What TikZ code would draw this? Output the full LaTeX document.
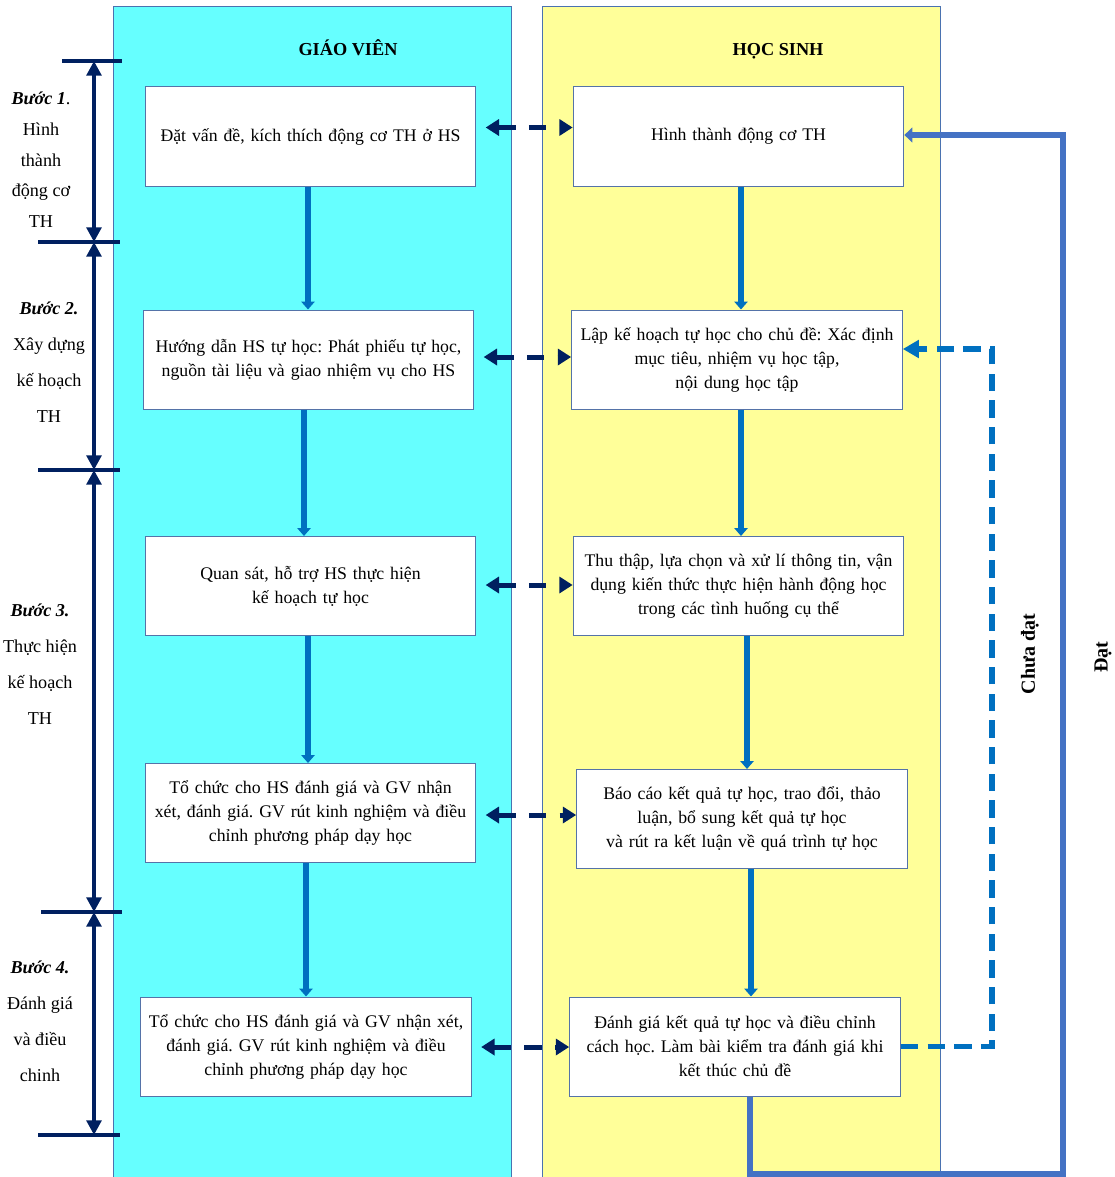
\documentclass[tikz,border=0pt]{standalone}
\usepackage{fontspec}
\setmainfont{Liberation Serif}
\frenchspacing
\usetikzlibrary{arrows.meta,calc}
\definecolor{gvfill}{HTML}{66FFFF}
\definecolor{hsfill}{HTML}{FFFF99}
\definecolor{colborder}{HTML}{4A72B0}
\definecolor{boxborder}{HTML}{5573A8}
\definecolor{navy}{HTML}{002060}
\definecolor{flowblue}{HTML}{0070C0}
\definecolor{okblue}{HTML}{4472C4}
\tikzset{
  column/.style={draw=colborder, line width=0.75pt},
  procbox/.style={draw=boxborder, fill=white, line width=0.75pt, minimum width=247.5pt, minimum height=74.25pt, align=center, inner sep=2pt, text width=244pt, font=\fontsize{13.3}{18}\selectfont},
  heading/.style={font=\fontsize{13.7}{15}\selectfont\bfseries, anchor=base},
  steplabel/.style={align=center, font=\fontsize{13.6}{27}\selectfont},
  flow/.style={draw=flowblue, line width=4.5pt, -{Triangle[length=6pt,width=10pt]}},
  link/.style={draw=navy, line width=3.75pt, dash pattern=on 13pt off 10pt, {Triangle[length=10pt,width=12pt]}-{Triangle[length=10pt,width=12pt]}, shorten <=7pt},
  stepline/.style={draw=navy, line width=3.5pt},
  steparrow/.style={draw=navy, line width=3.5pt, {Triangle[length=11pt,width=11pt]}-{Triangle[length=11pt,width=11pt]}},
  retryline/.style={draw=flowblue, line width=4pt, dash pattern=on 13pt off 7pt, -{Triangle[length=12pt,width=13pt]}},
  okline/.style={draw=okblue, line width=4pt, -{Triangle[length=6pt,width=11pt]}},
  sidelabel/.style={rotate=90, font=\fontsize{15}{17}\selectfont\bfseries}
}
\begin{document}
\begin{tikzpicture}[x=0.75pt,y=-0.75pt]
\useasboundingbox (0,0) rectangle (1114,1177);
% columns
\path[column, fill=gvfill] (113,7) rectangle (511,1180);
\path[column, fill=hsfill] (542,7) rectangle (940,1180);
\node[heading] (hgv) at (348,56) {GIÁO VIÊN};
\node[heading] (hhs) at (778,56) {HỌC SINH};
% teacher boxes
\node[procbox] (g1) at (310.5,136.5) {Đặt vấn đề, kích thích động cơ TH ở HS};
\node[procbox] (g2) at (308.5,359.5) {Hướng dẫn HS tự học: Phát phiếu tự học,\\ nguồn tài liệu và giao nhiệm vụ cho HS};
\node[procbox] (g3) at (310.5,586) {Quan sát, hỗ trợ HS thực hiện\\ kế hoạch tự học};
\node[procbox] (g4) at (310.5,813) {Tổ chức cho HS đánh giá và GV nhận\\ xét, đánh giá. GV rút kinh nghiệm và điều\\ chỉnh phương pháp dạy học};
\node[procbox] (g5) at (306,1046.5) {Tổ chức cho HS đánh giá và GV nhận xét,\\ đánh giá. GV rút kinh nghiệm và điều\\ chỉnh phương pháp dạy học};
% student boxes
\node[procbox] (h1) at (738.5,136.5) {Hình thành động cơ TH};
\node[procbox] (h2) at (737,359.5) {Lập kế hoạch tự học cho chủ đề: Xác định\\ mục tiêu, nhiệm vụ học tập,\\ nội dung học tập};
\node[procbox] (h3) at (738.5,586) {Thu thập, lựa chọn và xử lí thông tin, vận\\ dụng kiến thức thực hiện hành động học\\ trong các tình huống cụ thể};
\node[procbox] (h4) at (742,819) {Báo cáo kết quả tự học, trao đổi, thảo\\ luận, bổ sung kết quả tự học\\ và rút ra kết luận về quá trình tự học};
\node[procbox] (h5) at (735,1046.5) {Đánh giá kết quả tự học và điều chỉnh\\ cách học. Làm bài kiểm tra đánh giá khi\\ kết thúc chủ đề};
% teacher flow
\coordinate (ga1) at ($(g1.south)+(-2.5,0)$);
\coordinate (ga2) at ($(g2.south)+(-4.5,0)$);
\coordinate (ga3) at ($(g3.south)+(-2.5,0)$);
\coordinate (ga4) at ($(g4.south)+(-4.5,0)$);
\draw[flow] (ga1) -- (ga1 |- g2.north);
\draw[flow] (ga2) -- (ga2 |- g3.north);
\draw[flow] (ga3) -- (ga3 |- g4.north);
\draw[flow] (ga4) -- (ga4 |- g5.north);
% student flow
\coordinate (ha1) at ($(h1.south)+(2.5,0)$);
\coordinate (ha2) at ($(h2.south)+(4,0)$);
\coordinate (ha3) at ($(h3.south)+(8.5,0)$);
\coordinate (ha4) at ($(h4.south)+(9,0)$);
\draw[flow] (ha1) -- (ha1 |- h2.north);
\draw[flow] (ha2) -- (ha2 |- h3.north);
\draw[flow] (ha3) -- (ha3 |- h4.north);
\draw[flow] (ha4) -- (ha4 |- h5.north);
% links between columns
\draw[link] ($(g1.east)+(0,-9)$) -- ($(h1.west)+(0,-9)$);
\draw[link] ($(g2.east)+(0,-2.5)$) -- ($(h2.west)+(0,-2.5)$);
\draw[link] ($(g3.east)+(0,-1)$) -- ($(h3.west)+(0,-1)$);
\draw[link] ($(g4.east)+(0,2)$) -- ($(h4.west |- g4.east)+(0,2)$);
\draw[link] ($(g5.east)+(0,0.5)$) -- ($(h5.west)+(0,0.5)$);
% step markers
\coordinate (s1) at (94,61);
\coordinate (s2) at (94,242);
\coordinate (s3) at (94,470);
\coordinate (s4) at (94,912);
\coordinate (s5) at (94,1135);
\draw[stepline] (62,61) -- (122,61);
\draw[stepline] (38,242) -- (120,242);
\draw[stepline] (38,470) -- (120,470);
\draw[stepline] (41,912) -- (122,912);
\draw[stepline] (38,1135) -- (120,1135);
\draw[steparrow] (s1) -- (s2);
\draw[steparrow] (s2) -- (s3);
\draw[steparrow] (s3) -- (s4);
\draw[steparrow] (s4) -- (s5);
\node[steplabel, font=\fontsize{13.6}{23}\selectfont] (b1) at (41,160) {\textbf{\textit{Bước 1}}.\\ Hình\\ thành\\ động cơ\\ TH};
\node[steplabel] (b2) at (49,362) {\textbf{\textit{Bước 2.}}\\ Xây dựng\\ kế hoạch\\ TH};
\node[steplabel] (b3) at (40,664) {\textbf{\textit{Bước 3.}}\\ Thực hiện\\ kế hoạch\\ TH};
\node[steplabel] (b4) at (40,1021) {\textbf{\textit{Bước 4.}}\\ Đánh giá\\ và điều\\ chinh};
% feedback: not achieved
\draw[retryline] (h5.east) -- (992,1046.5) -- (992,349) -- ($(h2.east)+(0,-10.5)$);
\node[sidelabel] (lbl1) at (1030,654) {Chưa đạt};
\node[sidelabel] (lbl2) at (1103,657) {Đạt};
% feedback: achieved
\coordinate (d0) at ($(h5.south)+(15,0)$);
\draw[okline] (d0) -- (d0 |- 0,1174) -- (1063,1174) -- (1063,135) -- ($(h1.east)+(0,-1.5)$);
\end{tikzpicture}
\end{document}
